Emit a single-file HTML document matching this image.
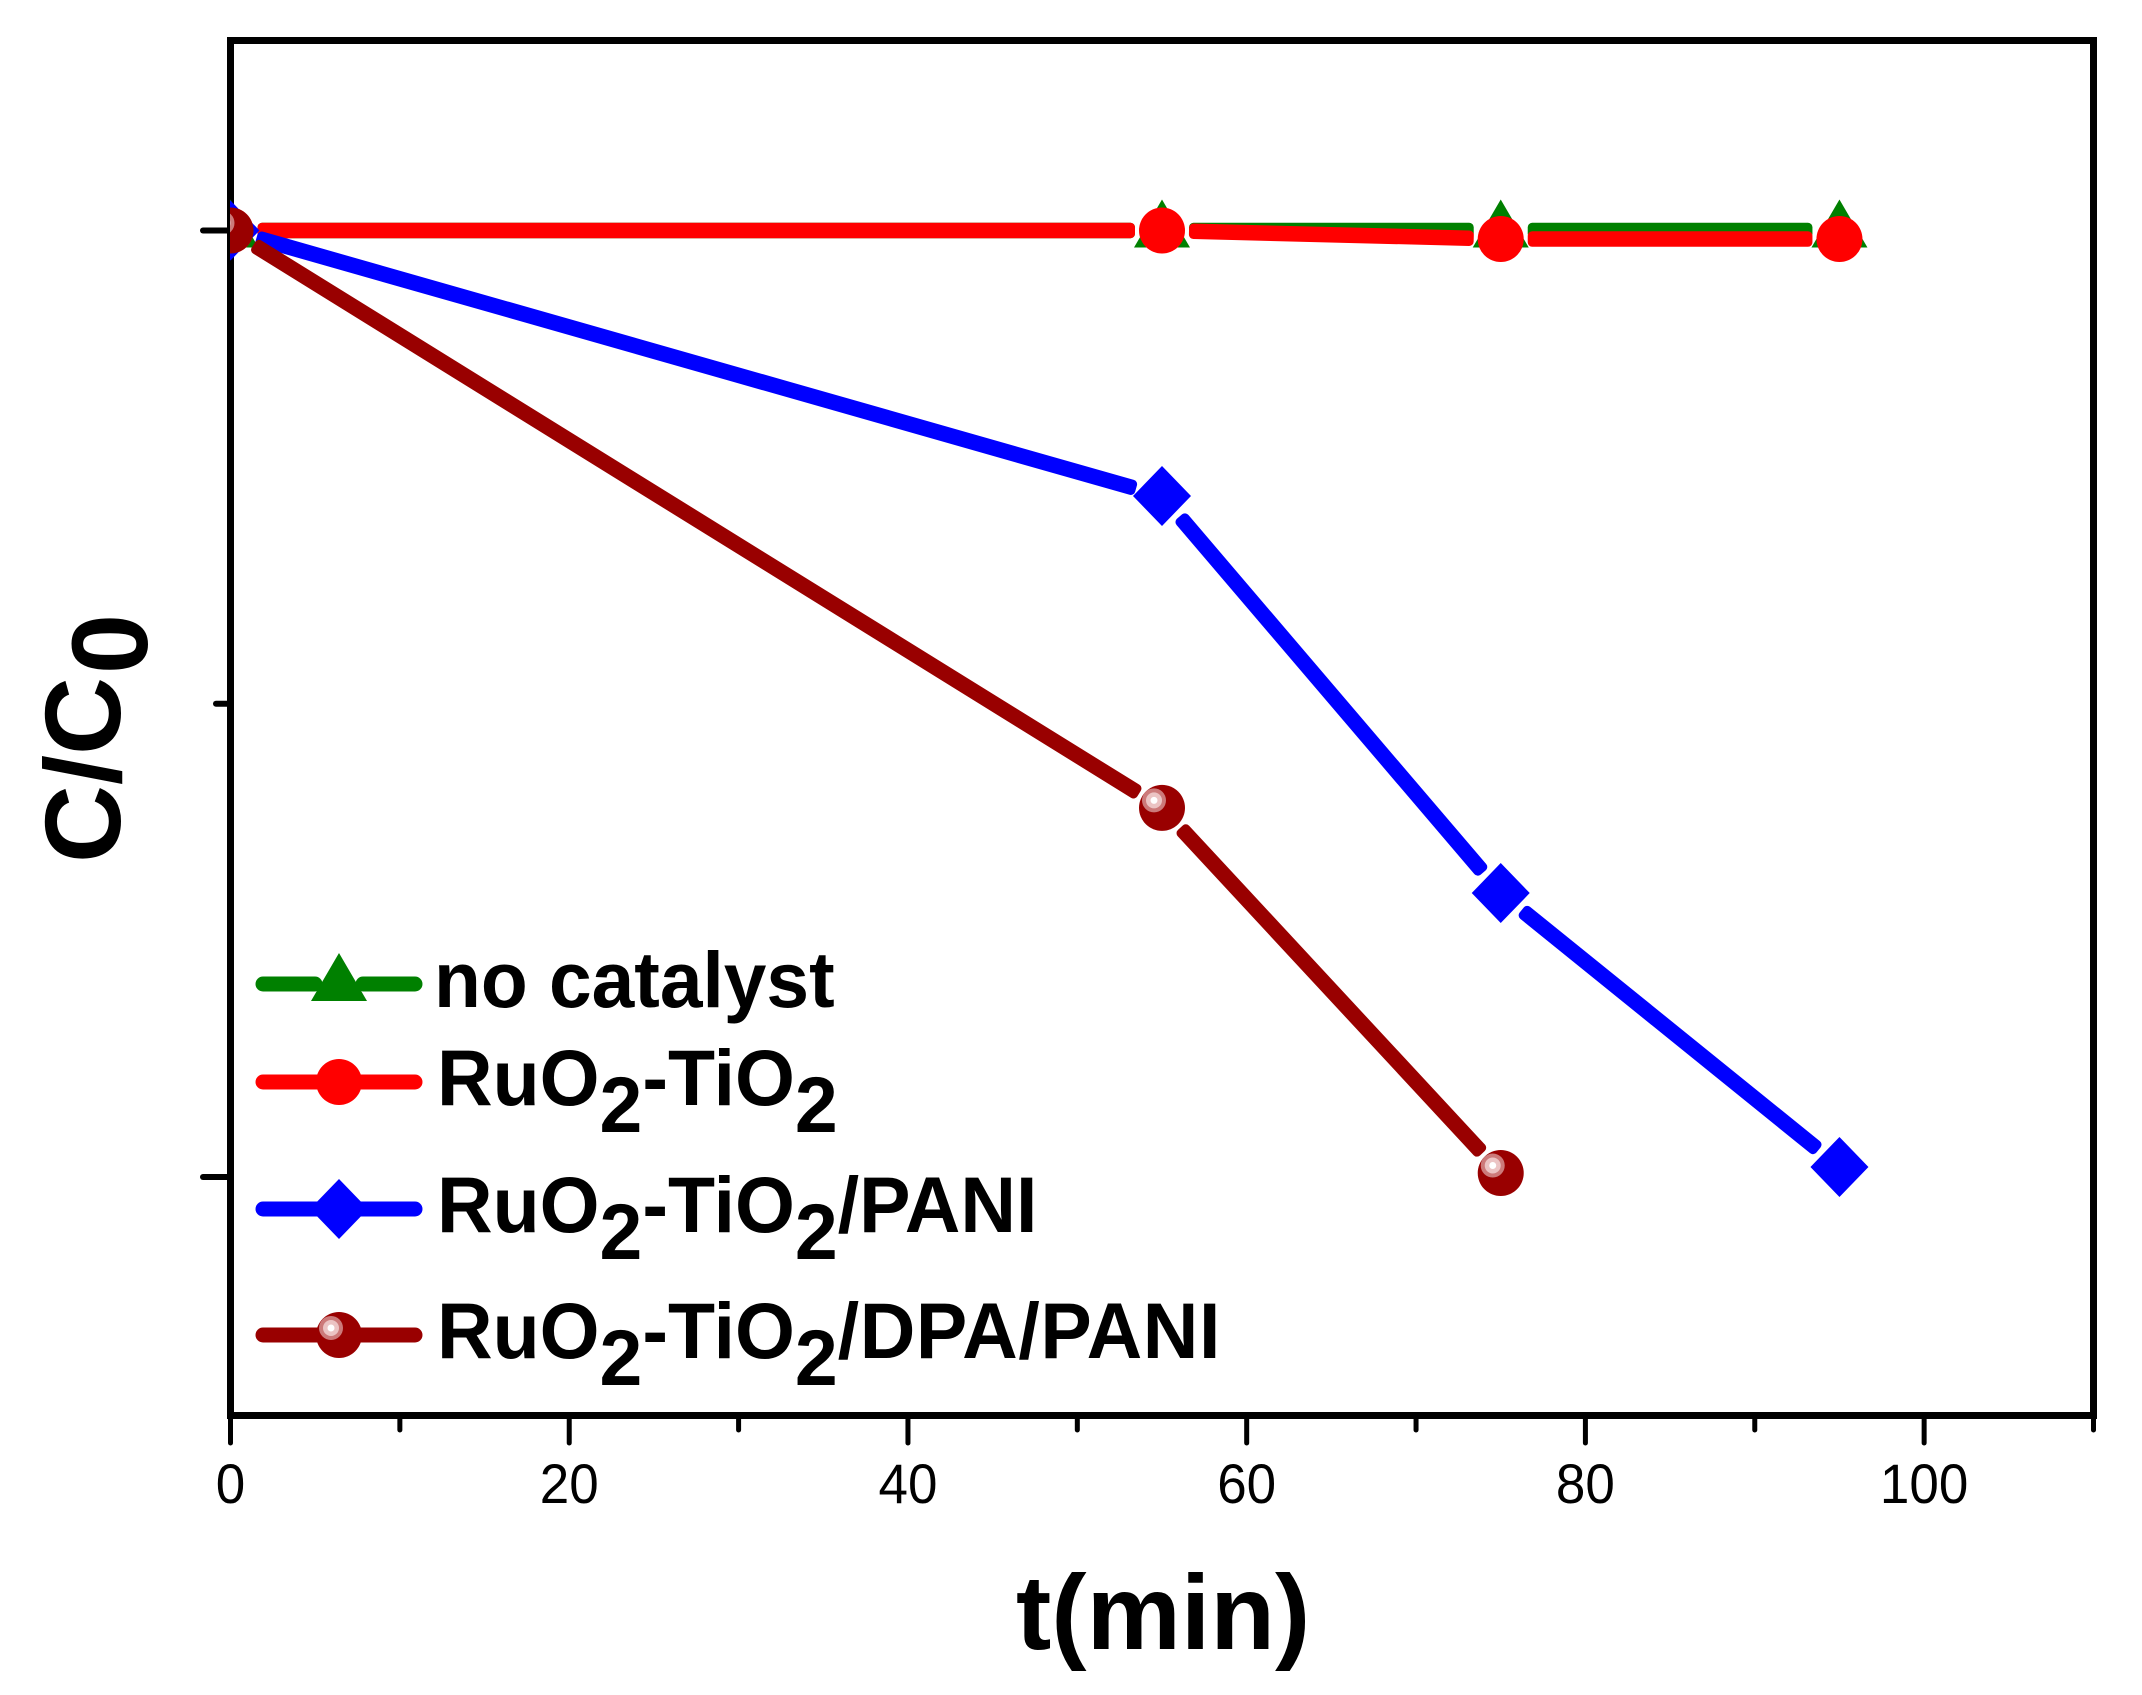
<!DOCTYPE html>
<html lang="en">
<head>
<meta charset="utf-8">
<title>C/C0 versus time</title>
<style>
html,body{margin:0;padding:0;background:#fff;}
svg{display:block;font-family:"Liberation Sans",Arial,sans-serif;}
.leg{font-size:77px;font-weight:bold;fill:#000;}
.tick-label{font-size:53px;fill:#000;text-anchor:middle;}
.title{font-weight:bold;fill:#000;}
</style>
</head>
<body>
<svg id="chart" xmlns="http://www.w3.org/2000/svg" width="2142" height="1695" viewBox="0 0 2142 1695">
  <rect x="0" y="0" width="2142" height="1695" fill="#fff"/>
  <defs>
    <clipPath id="plot-clip"><rect x="230" y="0" width="1912" height="1695"/></clipPath>
  </defs>
  <g id="axes"></g>
  <g id="series" clip-path="url(#plot-clip)"></g>

  <text class="title" font-size="106" x="1016" y="1649">t(min)</text>
  <text class="title" font-size="108" transform="translate(120,863) rotate(-90)">C/C<tspan dy="27" dx="3">0</tspan></text>

  <g>
    <g>
      <line x1="263" y1="984" x2="315" y2="984" stroke="#008000" stroke-width="15" stroke-linecap="round"/>
      <line x1="363" y1="984" x2="415" y2="984" stroke="#008000" stroke-width="15" stroke-linecap="round"/>
      <polygon points="339,953 367,1001 311,1001" fill="#008000"/>
      <text class="leg" style="font-size:76.7px" transform="translate(434,1007) scale(1,1.03)">no catalyst</text>
    </g>
    <g>
      <line x1="263" y1="1082" x2="415" y2="1082" stroke="#ff0000" stroke-width="15" stroke-linecap="round"/>
      <circle cx="339" cy="1082" r="23" fill="#ff0000"/>
      <text class="leg" transform="translate(437,1105) scale(1,1.03)">RuO<tspan dy="26">2</tspan><tspan dy="-26">-TiO</tspan><tspan dy="26">2</tspan></text>
    </g>
    <g>
      <line x1="263" y1="1209" x2="415" y2="1209" stroke="#0000ff" stroke-width="15" stroke-linecap="round"/>
      <polygon points="339,1179 368,1209 339,1239 310,1209" fill="#0000ff"/>
      <text class="leg" transform="translate(437,1232) scale(1,1.03)">RuO<tspan dy="26">2</tspan><tspan dy="-26">-TiO</tspan><tspan dy="26">2</tspan><tspan dy="-26">/PANI</tspan></text>
    </g>
    <g>
      <line x1="263" y1="1335" x2="415" y2="1335" stroke="#990000" stroke-width="15" stroke-linecap="round"/>
      <circle cx="339" cy="1335" r="23" fill="#990000"/>
      <circle cx="331" cy="1328" r="12" fill="#cc7a7a"/>
      <circle cx="331" cy="1328" r="8" fill="#ebc4c4"/>
      <circle cx="331" cy="1328" r="3.5" fill="#ffffff"/>
      <text class="leg" transform="translate(437,1358) scale(1,1.03)">RuO<tspan dy="26">2</tspan><tspan dy="-26">-TiO</tspan><tspan dy="26">2</tspan><tspan dy="-26" style="letter-spacing:0.6px">/DPA/PANI</tspan></text>
    </g>
  </g>
</svg>
<script>
// Chart data
const timeMinutes = [0, 55, 75, 95];
const noCatalystValues = [1, 1, 1, 1];
const ruTiValues = [1, 1, 0.991, 0.991];
const ruTiPaniValues = [1, 0.7195, 0.30, 0.0106];
const dpaPaniTimes = [0, 55, 75];
const ruTiDpaPaniValues = [1, 0.39, 0.0042];
const xTickValues = [0, 10, 20, 30, 40, 50, 60, 70, 80, 90, 100, 110];
const xTickLabels = ["0", "", "20", "", "40", "", "60", "", "80", "", "100", ""];
const yTickValues = [1, 0.5, 0];

// Axis functions
const plotLeft = 230.5, plotRight = 2093.5, plotTop = 40.5, plotBottom = 1415.5;
const xMin = 0, xMax = 110;
const yAtOne = 230.5, yAtZero = 1177;
function xScale(v) { return plotLeft + (v - xMin) * (plotRight - plotLeft) / (xMax - xMin); }
function yScale(v) { return yAtZero + v * (yAtOne - yAtZero); }

const NS = "http://www.w3.org/2000/svg";
const axes = document.getElementById("axes");
const seriesGroup = document.getElementById("series");
function make(tag, attrs, parent) {
  const e = document.createElementNS(NS, tag);
  for (const k in attrs) e.setAttribute(k, attrs[k]);
  parent.appendChild(e);
  return e;
}

// Frame
const frame = make("rect", {x: plotLeft, y: plotTop, width: plotRight - plotLeft, height: plotBottom - plotTop, fill: "none", stroke: "#000", "stroke-width": 7}, axes);



// X ticks
xTickValues.forEach(function (v, i) {
  const major = xTickLabels[i] !== "";
  const t = make("line", {x1: xScale(v), x2: xScale(v), y1: plotBottom, y2: major ? 1443 : 1430, stroke: "#000", "stroke-width": 5, "stroke-linecap": "round"}, axes);
  
  
  if (major) {
    const l = make("text", {transform: "translate(" + xScale(v) + ",1503) scale(1,1.05)", "class": "tick-label"}, axes);
    l.textContent = xTickLabels[i];
    
    
  }
});

// Y ticks
yTickValues.forEach(function (v, i) {
  const t = make("line", {x1: plotLeft, x2: i === 1 ? 216 : 203, y1: yScale(v), y2: yScale(v), stroke: "#000", "stroke-width": 6, "stroke-linecap": "round"}, axes);
  
  
});

// Series segments stop short of each marker, leaving a small white gap
const markerGap = 27;
const lineWeight = 15.5;
function drawLines(xs, ys, color, name) {
  for (let i = 0; i < xs.length - 1; i++) {
    const x1 = xScale(xs[i]), y1 = yScale(ys[i]), x2 = xScale(xs[i + 1]), y2 = yScale(ys[i + 1]);
    const d = Math.hypot(x2 - x1, y2 - y1);
    const angle = Math.atan2(y2 - y1, x2 - x1) * 180 / Math.PI;
    const seg = make("rect", {x: markerGap, y: -lineWeight / 2, width: d - 2 * markerGap, height: lineWeight, rx: 4.5, ry: 4.5, fill: color, transform: "translate(" + x1 + "," + y1 + ") rotate(" + angle + ")"}, seriesGroup);
    
    
  }
}
function drawTriangle(cx, cy, color, name) {
  const m = make("polygon", {points: cx + "," + (cy - 31) + " " + (cx + 28) + "," + (cy + 17) + " " + (cx - 28) + "," + (cy + 17), fill: color}, seriesGroup);
  
  
}
function drawCircle(cx, cy, color, name) {
  const m = make("circle", {cx: cx, cy: cy, r: 23, fill: color}, seriesGroup);
  
  
}
function drawDiamond(cx, cy, color, name) {
  const m = make("polygon", {points: cx + "," + (cy - 30) + " " + (cx + 29) + "," + cy + " " + cx + "," + (cy + 30) + " " + (cx - 29) + "," + cy, fill: color}, seriesGroup);
  
  
}
function drawBall(cx, cy, color, name) {
  const m = make("circle", {cx: cx, cy: cy, r: 23, fill: color}, seriesGroup);
  
  
  make("circle", {cx: cx - 8, cy: cy - 7.5, r: 12, fill: "#cc7a7a"}, seriesGroup);
  make("circle", {cx: cx - 8, cy: cy - 7.5, r: 8, fill: "#ebc4c4"}, seriesGroup);
  make("circle", {cx: cx - 8, cy: cy - 7.5, r: 3.5, fill: "#ffffff"}, seriesGroup);
}
function drawSeries(xs, ys, color, name, marker) {
  drawLines(xs, ys, color, name);
  xs.forEach(function (x, i) { marker(xScale(x), yScale(ys[i]), color, name); });
}

drawSeries(timeMinutes, noCatalystValues, "#008000", "no-catalyst", drawTriangle);
drawSeries(timeMinutes, ruTiValues, "#ff0000", "ruo2-tio2", drawCircle);
drawSeries(timeMinutes, ruTiPaniValues, "#0000ff", "ruo2-tio2-pani", drawDiamond);
drawSeries(dpaPaniTimes, ruTiDpaPaniValues, "#990000", "ruo2-tio2-dpa-pani", drawBall);
</script>
</body>
</html>
